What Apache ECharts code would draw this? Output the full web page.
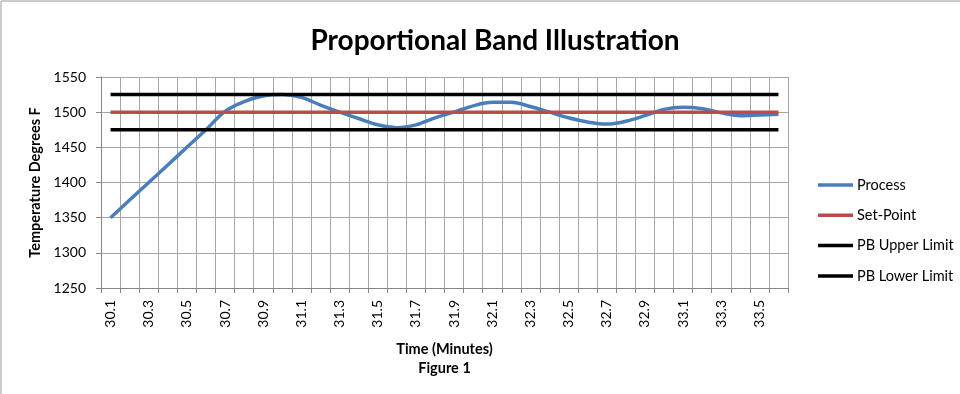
<!DOCTYPE html>
<html>
<head>
<meta charset="utf-8">
<script src="https://cdn.jsdelivr.net/npm/echarts@6/dist/echarts.min.js"></script>
<style>
  html, body { margin: 0; padding: 0; background: #fff; }
  #chart { width: 960px; height: 394px; }
</style>
</head>
<body>
<div id="chart"></div>
<script>
// Time axis categories (minutes)
const times = ['30.1','30.2','30.3','30.4','30.5','30.6','30.7','30.8','30.9','31.0',
  '31.1','31.2','31.3','31.4','31.5','31.6','31.7','31.8','31.9','32.0',
  '32.1','32.2','32.3','32.4','32.5','32.6','32.7','32.8','32.9','33.0',
  '33.1','33.2','33.3','33.4','33.5','33.6'];

// Measured process temperature (°F)
const processTemp = [1350, 1375, 1400, 1425, 1450, 1475, 1501, 1515, 1523, 1525,
  1521, 1510, 1500, 1491, 1482, 1478, 1482, 1492, 1500, 1509,
  1514, 1514, 1508, 1500, 1492, 1486, 1483, 1487, 1495, 1504,
  1507, 1505, 1499, 1495, 1496, 1497];

// Control band constants
const setPointValue = 1500;
const upperLimitValue = 1525;
const lowerLimitValue = 1475;

const setPoint = times.map(() => setPointValue);
const upperLimit = times.map(() => upperLimitValue);
const lowerLimit = times.map(() => lowerLimitValue);

const FONT = 'Lato, "Open Sans", sans-serif';
// plain thick bar used as the legend key
const LINE_ICON = 'path://M0,0 L35,0 L35,3.5 L0,3.5 Z';

const chart = echarts.init(document.getElementById('chart'), null, { renderer: 'canvas' });

const lineSeries = (name, data, color, smooth) => ({
  name, type: 'line', data, smooth,
  symbol: 'none', showSymbol: false,
  lineStyle: { color, width: 3.5 },
  itemStyle: { color },
  emphasis: { disabled: true },
  animation: false
});

chart.setOption({
  backgroundColor: '#ffffff',
  animation: false,
  title: {
    text: 'Proportional Band Illustration',
    left: 490, top: 22, textAlign: 'center',
    textStyle: { fontFamily: FONT, fontSize: 28, fontWeight: 'bold', color: '#000' }
  },
  grid: { left: 101, right: 172, top: 77, bottom: 106 },
  legend: {
    orient: 'vertical',
    left: 813, top: 172,
    icon: LINE_ICON,
    itemWidth: 35, itemHeight: 16, itemGap: 14.3,
    textStyle: { fontFamily: FONT, fontSize: 14.5, lineHeight: 16, color: '#000', padding: [0, 0, 0, -1] },
    data: ['Process', 'Set-Point', 'PB Upper Limit', 'PB Lower Limit']
  },
  xAxis: {
    type: 'category',
    data: times,
    boundaryGap: true,
    name: 'Time (Minutes)\nFigure 1',
    nameLocation: 'middle',
    nameGap: 52,
    nameTextStyle: { fontFamily: FONT, fontSize: 14.5, fontWeight: 'bold', color: '#000', lineHeight: 19 },
    axisLine: { lineStyle: { color: '#868686', width: 1 } },
    axisTick: { show: true, interval: 0, length: 5, lineStyle: { color: '#868686' } },
    axisLabel: { interval: 1, rotate: 90, margin: 12, fontFamily: FONT, fontSize: 14, color: '#000' },
    splitLine: { show: true, interval: 0, lineStyle: { color: '#a6a6a6', width: 1 } }
  },
  yAxis: {
    type: 'value',
    min: 1250, max: 1550, interval: 50,
    name: 'Temperature Degrees F',
    nameLocation: 'middle',
    nameGap: 57,
    nameRotate: 90,
    nameTextStyle: { fontFamily: FONT, fontSize: 14.5, fontWeight: 'bold', color: '#000' },
    axisLine: { show: true, lineStyle: { color: '#868686', width: 1 } },
    axisTick: { show: true, length: 5, lineStyle: { color: '#868686' } },
    axisLabel: { margin: 15, fontFamily: FONT, fontSize: 14, color: '#000', formatter: v => String(v) },
    splitLine: { show: true, lineStyle: { color: '#a6a6a6', width: 1 } }
  },
  graphic: [{
    type: 'rect',
    shape: { x: 1, y: 1, width: 1000, height: 500 },
    style: { fill: 'none', stroke: '#9a9a9a', lineWidth: 1 },
    silent: true, z: -1
  }],
  series: [
    lineSeries('Process', processTemp, '#4a7ebb', 0.35),
    lineSeries('Set-Point', setPoint, '#be4b48', false),
    lineSeries('PB Upper Limit', upperLimit, '#000000', false),
    lineSeries('PB Lower Limit', lowerLimit, '#000000', false)
  ]
});
</script>
</body>
</html>
